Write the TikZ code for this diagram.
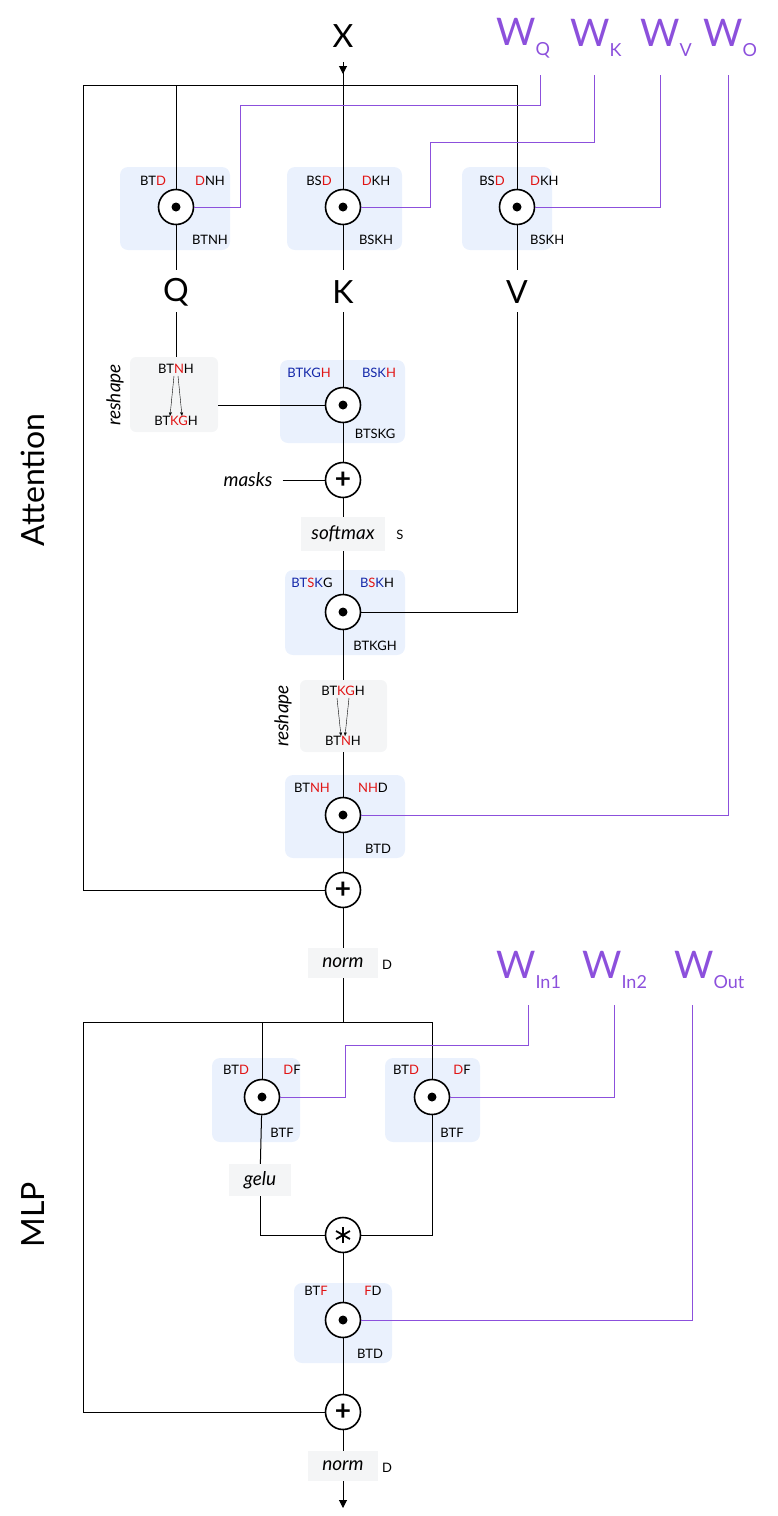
\documentclass[tikz,border=0pt]{standalone}
\usepackage{fontspec}
\setmainfont{Lato}
\usetikzlibrary{arrows.meta}
\definecolor{wpurple}{RGB}{140,80,220}
\definecolor{boxblue}{RGB}{234,241,253}
\definecolor{boxgray}{RGB}{244,245,246}
\definecolor{ired}{RGB}{225,20,20}
\definecolor{iblue}{RGB}{20,40,170}
\newcommand{\rd}[1]{\textcolor{ired}{#1}}
\newcommand{\bl}[1]{\textcolor{iblue}{#1}}
\newcommand{\wsub}[1]{\raisebox{-10pt}{\fontsize{18}{18}\selectfont #1}}
\begin{document}
\begin{tikzpicture}[x=1pt,y=-1pt]

\tikzset{opnode/.style={circle,minimum size=35pt,inner sep=0pt,draw,line width=1.6pt,fill=white,font=\fontsize{28}{28}\selectfont\bfseries},}
\tikzset{ebox/.style={rounded corners=8pt,fill=boxblue},}
\tikzset{gbox/.style={rounded corners=6pt,fill=boxgray},}
\tikzset{idx/.style={font=\fontsize{13}{13}\selectfont,inner sep=0pt},}
\tikzset{fn/.style={font=\fontsize{19}{19}\selectfont\itshape,inner sep=0pt},}
\tikzset{big/.style={font=\fontsize{32}{32}\selectfont,inner sep=0pt},}
\tikzset{wt/.style={font=\fontsize{38}{38}\selectfont,text=wpurple,inner sep=0pt},}
\tikzset{wire/.style={line width=1pt},}
\tikzset{pwire/.style={line width=1pt,wpurple},}

\useasboundingbox (0,0) rectangle (778,1516);

%BOXES
\fill[ebox] (120,167) rectangle (230,250);
\fill[ebox] (287,167) rectangle (402,250);
\fill[ebox] (462,167) rectangle (552,250);
\fill[ebox] (280,360) rectangle (405,443);
\fill[ebox] (285,570) rectangle (405,655);
\fill[ebox] (285,775) rectangle (405,858);
\fill[ebox] (212,1058) rectangle (300,1142);
\fill[ebox] (385,1058) rectangle (480,1142);
\fill[ebox] (294,1283) rectangle (392,1363);
\fill[gbox] (130,357) rectangle (218,432);
\fill[gbox] (300,680) rectangle (387,752);

%LABELS
\draw (343,36) node [big] (x) {X};
\draw (176,292) node [big] (q) {Q};
\draw (343,292) node [big] (k) {K};
\draw (517,292) node [big] (v) {V};
\draw (33,480) node [big,rotate=90] (att) {Attention};
\draw (33,1215) node [big,rotate=90] (mlp) {MLP};
\draw (496,38) node [wt,anchor=west] (wq) {W\wsub{Q}};
\draw (570,38) node [wt,anchor=west] (wk) {W\wsub{K}};
\draw (640,38) node [wt,anchor=west] (wv) {W\wsub{V}};
\draw (703,38) node [wt,anchor=west] (wo) {W\wsub{O}};
\draw (496,970) node [wt,anchor=west] (win1) {W\wsub{In1}};
\draw (582,970) node [wt,anchor=west] (win2) {W\wsub{In2}};
\draw (674,970) node [wt,anchor=west] (wout) {W\wsub{Out}};

%OPERATORS
\draw (176,207) node [opnode] (eq) {};
\draw (343,207) node [opnode] (ek) {};
\draw (517,207) node [opnode] (ev) {};
\draw (343,405) node [opnode] (es) {};
\draw (343,480) node [opnode] (pm) {+};
\draw (343,612) node [opnode] (ea) {};
\draw (343,815) node [opnode] (eo) {};
\draw (343,890) node [opnode] (pa) {+};
\draw (262,1097) node [opnode] (e1) {};
\draw (432,1097) node [opnode] (e2) {};
\draw (343,1235) node [opnode] (mul) {};
\draw (343,1320) node [opnode] (e3) {};
\draw (343,1412) node [opnode] (pb) {+};
\foreach \n in {eq,ek,ev,es,ea,eo,e1,e2,e3}
  \fill (\n) circle (4.5);
\foreach \a in {90,30,-30}
  \draw[line width=1.8pt] (mul) ++(\a:8) -- ++(\a+180:16);

%FUNCTIONS
\draw (248,480) node [fn] (masks) {masks};
\draw (343,534) node [fn,fill=boxgray,minimum width=84pt,minimum height=34pt] (sm) {softmax};
\draw (400,535) node [idx] () {S};
\draw (343,963) node [fn,fill=boxgray,minimum width=70pt,minimum height=30pt] (n1) {norm};
\draw (387,965) node [idx] () {D};
\draw (260,1180) node [fn,fill=boxgray,minimum width=62pt,minimum height=32pt] (gelu) {gelu};
\draw (343,1466) node [fn,fill=boxgray,minimum width=70pt,minimum height=30pt] (n2) {norm};
\draw (387,1468) node [idx] () {D};
\draw (115,395) node [fn,rotate=90] () {reshape};
\draw (283,716) node [fn,rotate=90] () {reshape};
\draw (176,369) node [idx] (r1a) {BT\rd{N}H};
\draw (176,421) node [idx] (r1b) {BT\rd{KG}H};
\draw (343,691) node [idx] (r2a) {BT\rd{KG}H};
\draw (343,741) node [idx] (r2b) {BT\rd{N}H};

%INDICES
\draw (153,181) node [idx] () {BT\rd{D}};
\draw (210,181) node [idx] () {\rd{D}NH};
\draw (210,240) node [idx] () {BTNH};
\draw (319,181) node [idx] () {BS\rd{D}};
\draw (376,181) node [idx] () {\rd{D}KH};
\draw (376,240) node [idx] () {BSKH};
\draw (492,181) node [idx] () {BS\rd{D}};
\draw (530,181) node [idx,anchor=west] () {\rd{D}KH};
\draw (530,240) node [idx,anchor=west] () {BSKH};
\draw (309,373) node [idx] () {\bl{BTKG}\rd{H}};
\draw (379,373) node [idx] () {\bl{BSK}\rd{H}};
\draw (375,434) node [idx] () {BTSKG};
\draw (312,583) node [idx] () {\bl{BT}\rd{S}\bl{K}G};
\draw (377,583) node [idx] () {\bl{B}\rd{S}\bl{K}H};
\draw (375,646) node [idx] () {BTKGH};
\draw (312,788) node [idx] () {BT\rd{NH}};
\draw (373,788) node [idx] () {\rd{NH}D};
\draw (378,849) node [idx] () {BTD};
\draw (236,1070) node [idx] () {BT\rd{D}};
\draw (292,1070) node [idx] () {\rd{D}F};
\draw (282,1133) node [idx] () {BTF};
\draw (406,1070) node [idx] () {BT\rd{D}};
\draw (462,1070) node [idx] () {\rd{D}F};
\draw (452,1133) node [idx] () {BTF};
\draw (316,1291) node [idx] () {BT\rd{F}};
\draw (373,1291) node [idx] () {\rd{F}D};
\draw (370,1354) node [idx] () {BTD};

%WIRES
\draw[wire,-{Triangle[length=8pt,width=8pt]}] (343,62) -- (343,74);
\draw[wire] (343,62) -- (ek);
\draw[wire] (83,890) |- (517,85) -- (ev);
\draw[wire] (176,85) -- (eq);
\draw[wire] (83,890) -- (pa);
\draw[wire] (eq) -- (176,270);
\draw[wire] (ek) -- (343,270);
\draw[wire] (ev) -- (517,270);
\draw[wire] (176,312) -- (176,357);
\draw[wire] (343,312) -- (es);
\draw[wire] (517,312) |- (ea);
\draw[wire] (218,405) -- (es);
\draw[wire] (es) -- (pm);
\draw[wire] (masks.east) ++(10,0) -- (pm);
\draw[wire] (pm) -- (sm);
\draw[wire] (sm) -- (ea);
\draw[wire] (ea) -- (343,680);
\draw[wire] (343,752) -- (eo);
\draw[wire] (eo) -- (pa);
\draw[wire] (pa) -- (n1);
\draw[wire] (n1) -- (343,1022);
\draw[wire] (83,1412) |- (432,1022) -- (e2);
\draw[wire] (262,1022) -- (e1);
\draw[wire] (83,1412) -- (pb);
\draw[wire] (e1) -- (gelu);
\draw[wire] (gelu) |- (mul);
\draw[wire] (e2) |- (mul);
\draw[wire] (mul) -- (e3);
\draw[wire] (e3) -- (pb);
\draw[wire] (pb) -- (n2);
\draw[wire,-{Triangle[length=8pt,width=8pt]}] (n2) -- (343,1508);
\draw[->,>={Stealth[length=4pt]},line width=.4pt] (r1a.south) ++(-2,2) -- (r1b.north -| 170,0);
\draw[->,>={Stealth[length=4pt]},line width=.4pt] (r1a.south) ++(2,2) -- (r1b.north -| 182,0);
\draw[->,>={Stealth[length=4pt]},line width=.4pt] (r2a.south) ++(-6,2) -- (r2b.north -| 341,0);
\draw[->,>={Stealth[length=4pt]},line width=.4pt] (r2a.south) ++(6,2) -- (r2b.north -| 345,0);

%WEIGHTS
\draw[pwire] (540,75) |- (240,105) |- (eq);
\draw[pwire] (594,75) |- (430,142) |- (ek);
\draw[pwire] (660,75) |- (ev);
\draw[pwire] (728,75) |- (eo);
\draw[pwire] (528,1005) |- (345,1045) |- (e1);
\draw[pwire] (614,1005) |- (e2);
\draw[pwire] (692,1005) |- (e3);

\end{tikzpicture}
\end{document}
